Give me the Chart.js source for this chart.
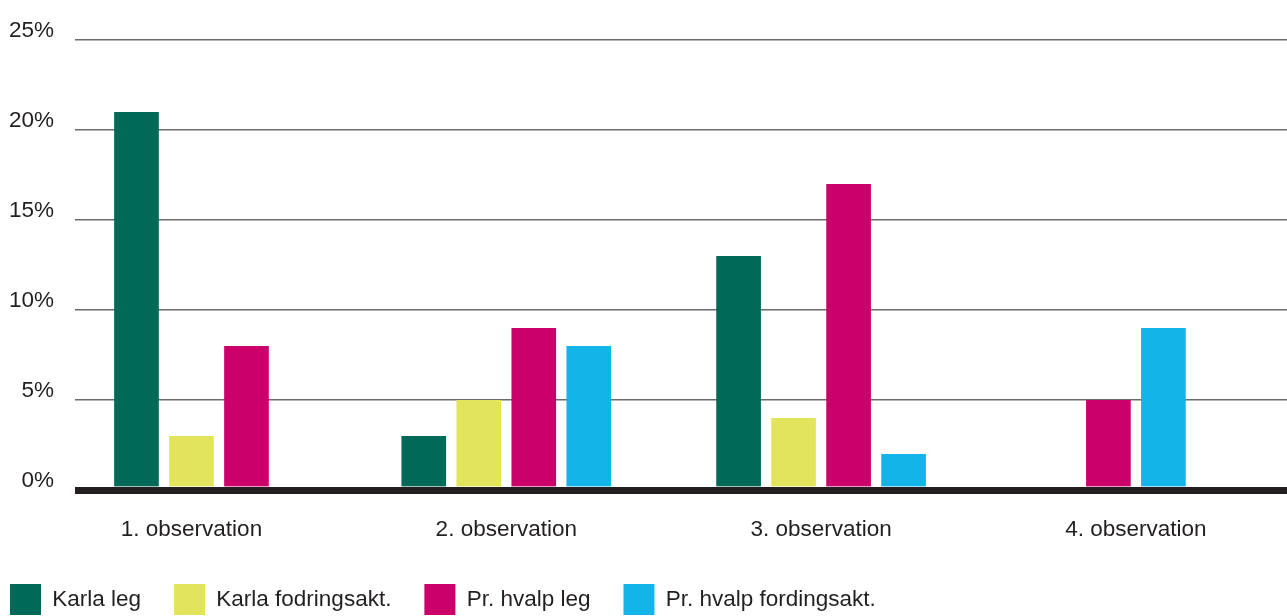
<!DOCTYPE html>
<html lang="da">
<head>
<meta charset="utf-8">
<title>Observationer</title>
<script src="https://cdn.jsdelivr.net/npm/chart.js@4.4.1/dist/chart.umd.min.js"></script>
<style>
  html, body { margin: 0; padding: 0; background: #fff; overflow: hidden; }
  #wrap { position: absolute; left: -23px; top: 0; width: 1310px; height: 625px; }
</style>
</head>
<body>
<div id="wrap"><canvas id="graf"></canvas></div>
<script>
// kategorier og serier (procent af observationstiden)
const observationer = ['1. observation', '2. observation', '3. observation', '4. observation'];
const karlaLeg = [21, 3, 13, null];
const karlaFodring = [3, 5, 4, null];
const hvalpLeg = [8, 9, 17, 5];
const hvalpFodring = [null, 8, 2, 9];
const yTicks = [0, 5, 10, 15, 20, 25];

const FONT = "'Liberation Sans', Arial, sans-serif";
const INK = '#231f20';
const GRID = '#6b6b6d';

Chart.defaults.font.family = FONT;
Chart.defaults.font.size = 22.5;
Chart.defaults.color = INK;

// søjler med fast bredde; gennemsigtig kant giver mellemrum i gruppen
function serie(label, values, color) {
    return {
        label,
        data: values.map((y, i) => ({ x: i + 1, y })),
        backgroundColor: color,
        borderColor: 'rgba(0,0,0,0)',
        borderWidth: { left: 5.5, right: 5.5, top: 0, bottom: 0 },
        barThickness: 55,
        skipNull: true
    };
}

new Chart(document.getElementById('graf'), {
    type: 'bar',
    data: {
        datasets: [
            serie('Karla leg', karlaLeg, '#006957'),
            serie('Karla fodringsakt.', karlaFodring, '#e2e55c'),
            serie('Pr. hvalp leg', hvalpLeg, '#cc006a'),
            serie('Pr. hvalp fordingsakt.', hvalpFodring, '#13b4e8')
        ]
    },
    options: {
        responsive: true,
        maintainAspectRatio: false,
        animation: false,
        layout: { padding: { top: 40, right: 0, bottom: 0, left: 0 } },
        plugins: {
            tooltip: { enabled: false },
            legend: {
                position: 'bottom',
                align: 'start',
                labels: { boxWidth: 31, boxHeight: 31, padding: 33 }
            }
        },
        scales: {
            x: {
                type: 'linear',
                min: 0.63,
                max: 4.48,
                offset: false,
                grid: { display: false, drawTicks: false },
                border: { display: false },
                ticks: {
                    stepSize: 1,
                    includeBounds: false,
                    autoSkip: false,
                    maxRotation: 0,
                    padding: 26,
                    callback: (v) => observationer[v - 1] || ''
                },
                afterFit: (scale) => { scale.height = 61; }
            },
            y: {
                min: 0,
                max: 25,
                border: { display: false },
                grid: {
                    drawTicks: false,
                    color: (c) => c.tick && c.tick.value === 0 ? INK : GRID,
                    lineWidth: (c) => c.tick && c.tick.value === 0 ? 7 : 1.4
                },
                ticks: {
                    padding: 21,
                    labelOffset: -9.5,
                    callback: (v) => v + '%'
                },
                afterBuildTicks: (scale) => { scale.ticks = yTicks.map(v => ({ value: v })); },
                afterFit: (scale) => { scale.width = 98; }
            }
        }
    }
});
</script>
</body>
</html>
